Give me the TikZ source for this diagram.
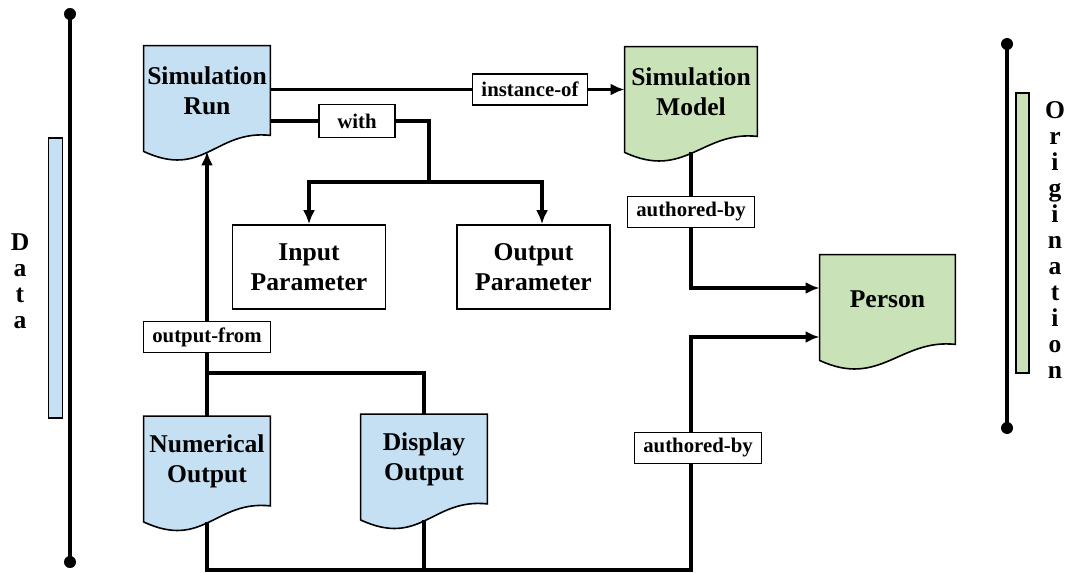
\documentclass[tikz,border=0pt]{standalone}
\usepackage{fontspec}
\setmainfont{Liberation Serif}
\usepackage{tikz}
\usetikzlibrary{arrows.meta}
\usetikzlibrary{calc}
\usetikzlibrary{positioning}
\usetikzlibrary{backgrounds}
\definecolor{runblue}{RGB}{197,224,242}
\definecolor{modgreen}{RGB}{201,226,183}
\tikzstyle{doc} = [minimum width=63pt, minimum height=44.5pt, align=center,
    inner sep=0pt, font=\fontsize{12.8}{15}\selectfont\bfseries]
\tikzstyle{block} = [draw, line width=0.8pt, minimum width=76.5pt,
    minimum height=42pt, align=center, font=\fontsize{12.8}{15}\selectfont\bfseries]
\tikzstyle{lbl} = [draw, fill=white, line width=0.7pt, minimum height=15.5pt,
    inner xsep=4.5pt, inner ysep=0pt, font=\fontsize{10.4}{12}\selectfont\bfseries]
\tikzstyle{link} = [line width=1.6pt]
\tikzstyle{bar} = [draw, line width=0.7pt, minimum width=7pt, minimum height=140pt, inner sep=0pt]
\tikzstyle{side} = [align=center, font=\fontsize{12.8}{13}\selectfont\bfseries]
% document outline with a wavy lower edge, drawn behind the node
\newcommand{\docfill}[2]{%
  \begin{scope}[on background layer]
    \draw[fill=#2, line width=0.8pt] (#1.north west) -- (#1.north east) -- (#1.south east)
      .. controls +(-55,-6) and +(60,28) .. ($(#1.south west)+(0,16)$) -- cycle;
  \end{scope}
  \coordinate (#1 wave) at ($(#1.south)+(0,16)$);
}

\begin{document}
\begin{tikzpicture}[x=0.5pt, y=-0.5pt, >={Latex[length=7pt,width=6pt]}]
    \useasboundingbox (0,0) rectangle (1068,572);

    % the two side scales
    \coordinate (dtop) at (70,14);
    \coordinate (dbot) at (70,562);
    \draw[link] (dtop) -- (dbot);
    \fill (dtop) circle (3pt) (dbot) circle (3pt);
    \node[bar, fill=runblue] (dbar) at (55.5,278) {};
    \node[side] (dlab) at (20,281) {D\\a\\t\\a};

    \coordinate (otop) at (1007,44);
    \coordinate (obot) at (1007,428);
    \draw[link] (otop) -- (obot);
    \fill (otop) circle (3pt) (obot) circle (3pt);
    \node[bar, fill=modgreen, minimum width=6.5pt] (obar) at (1022.5,233) {};
    \node[side] (olab) at (1055,240) {O\\r\\i\\g\\i\\n\\a\\t\\i\\o\\n};

    % the documents
    \node[doc] (run) at (207,90.5) {Simulation\\Run};
    \node[doc, minimum width=66pt] (model) at (691,91.5) {Simulation\\Model};
    \node[doc, minimum width=67.5pt] (person) at (887.5,299.5) {Person};
    \node[doc] (num) at (207,461) {Numerical\\Output};
    \node[doc] (disp) at (424,459) {Display\\Output};
    \docfill{run}{runblue}
    \docfill{model}{modgreen}
    \docfill{person}{modgreen}
    \docfill{num}{runblue}
    \docfill{disp}{runblue}

    % parameter boxes
    \node[block] (inp) at (309,267) {Input\\Parameter};
    \node[block] (outp) at (533.5,267) {Output\\Parameter};

    % relation labels
    \node[lbl] (inst) at (530,89.5) {instance-of};
    \node[lbl, minimum width=38pt, minimum height=16.5pt] (wth) at (357,121) {with};
    \node[lbl] (aby1) at (691,212) {authored-by};
    \node[lbl] (aby2) at (698,448) {authored-by};
    \node[lbl] (ofrom) at (207,337) {output-from};

    \coordinate (split) at (429,182);
    \coordinate (join) at (207,373);
    \coordinate (bot) at (691,570);

    % connectors
    \draw[link] (run.east |- inst) -- (inst);
    \draw[link,->] (inst) -- (model.west |- inst);
    \draw[link] (run.east |- wth) -- (wth);
    \draw[link] (wth) -| (split);
    \draw[link,->] (split) -| (inp);
    \draw[link,->] (split) -| ([xshift=4.25pt]outp.north);
    \draw[link,->] (ofrom) -- (run wave);
    \draw[link] (ofrom) -- (num);
    \draw[link] (join) -| (disp);
    \draw[link] (num wave) |- (bot) -- (bot |- aby2.south);
    \draw[link] (disp wave) -- (disp wave |- bot);
    \draw[link,->] (bot |- aby2.north) |- ([yshift=-18.75pt]person.west);
    \draw[link] (model wave) -- (aby1);
    \draw[link,->] (aby1) |- ([yshift=5.75pt]person.west);
\end{tikzpicture}
\end{document}
